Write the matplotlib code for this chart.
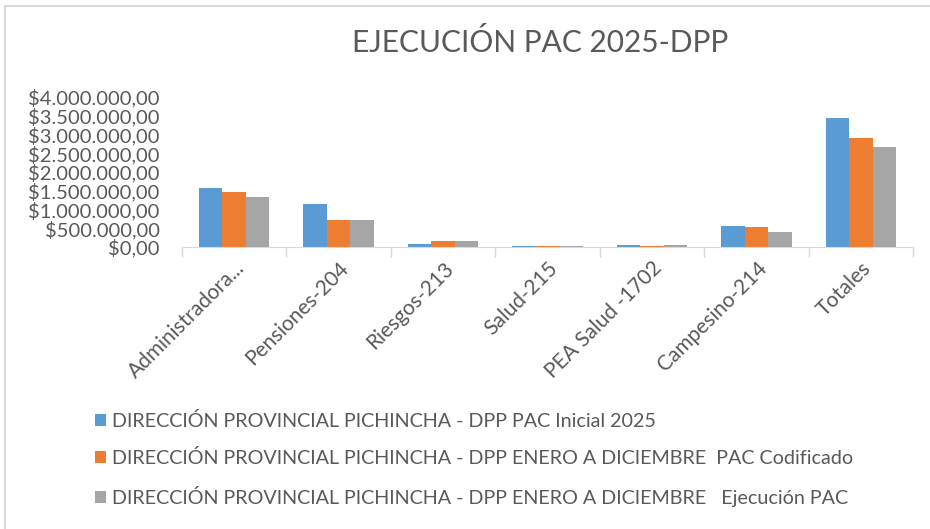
import numpy as np
import matplotlib
matplotlib.use("Agg")
import matplotlib.pyplot as plt
from matplotlib.lines import Line2D

categories = ["Administradora...", "Pensiones-204", "Riesgos-213", "Salud-215",
              "PEA Salud -1702", "Campesino-214", "Totales"]
series_names = [
    "DIRECCIÓN PROVINCIAL PICHINCHA - DPP PAC Inicial 2025",
    "DIRECCIÓN PROVINCIAL PICHINCHA - DPP ENERO A DICIEMBRE  PAC Codificado",
    "DIRECCIÓN PROVINCIAL PICHINCHA - DPP ENERO A DICIEMBRE   Ejecución PAC",
]
pac_inicial = [1580000, 1150000, 90000, 30000, 60000, 560000, 3450000]
pac_codificado = [1460000, 710000, 150000, 30000, 30000, 530000, 2920000]
ejecucion_pac = [1330000, 710000, 150000, 30000, 60000, 400000, 2670000]
colors = ["#5B9BD5", "#ED7D31", "#A5A5A5"]

plt.rcParams["font.family"] = ["Lato", "DejaVu Sans"]
txt = "#595959"
W, H = 930, 529
fig = plt.figure(figsize=(W / 100, H / 100), dpi=100)

# axes placed in pixel terms
left, right, top, bottom = 182, 913, 97, 247
ax = fig.add_axes([left / W, 1 - bottom / H, (right - left) / W, (bottom - top) / H])

x = np.arange(len(categories))
bw = 0.225
handles = []
for k, vals in enumerate([pac_inicial, pac_codificado, ejecucion_pac]):
    b = ax.bar(x + (k - 1) * bw, vals, bw, color=colors[k], label=series_names[k])
    handles.append(b)

ax.set_xlim(-0.5, len(categories) - 0.5)
ax.set_ylim(0, 4000000)
ax.set_yticks(np.arange(0, 4000001, 500000))

def money(v):
    s = f"{int(v):,}".replace(",", ".")
    return f"${s},00"

ax.set_yticklabels([money(v) for v in ax.get_yticks()], fontsize=14.5, color=txt)
ax.tick_params(axis="y", length=0, pad=16)

ax.set_xticks(x)
ax.set_xticklabels(categories, rotation=45, ha="right", va="top",
                   rotation_mode="anchor", fontsize=15, color=txt)
ax.tick_params(axis="x", length=0, pad=8)
ax.set_xticks(np.arange(-0.5, len(categories), 1), minor=True)
ax.tick_params(axis="x", which="minor", length=7, color="#D9D9D9", width=1)

for s in ["top", "right", "left"]:
    ax.spines[s].set_visible(False)
ax.spines["bottom"].set_color("#D9D9D9")

fig.text(540 / W, 1 - 42 / H, "EJECUCIÓN PAC 2025-DPP", ha="center", va="center",
         fontsize=21.5, color=txt)

fig.legend(handles=handles, labels=series_names, loc="upper left",
           bbox_to_anchor=(77 / W, 1 - 394 / H), frameon=False, fontsize=14.2,
           handlelength=0.55, handleheight=0.55, handletextpad=0.3,
           labelspacing=0.98, labelcolor=txt)

# chart border (left and top edges visible)
fig.add_artist(Line2D([5 / W, 5 / W], [0, 1 - 6 / H], transform=fig.transFigure,
                      color="#D9D9D9", lw=1.5))
fig.add_artist(Line2D([5 / W, 1], [1 - 6 / H, 1 - 6 / H], transform=fig.transFigure,
                      color="#D9D9D9", lw=1.5))

fig.savefig("out.png", dpi=100)
